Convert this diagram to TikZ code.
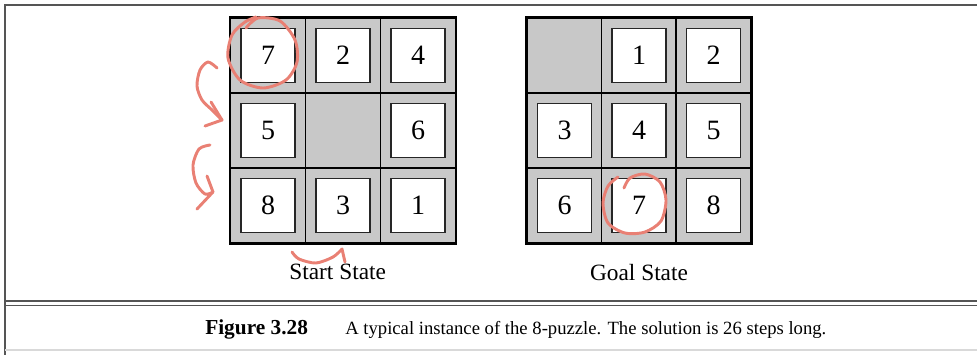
\documentclass[tikz,border=0pt]{standalone}
\usepackage{fontspec}
\setmainfont{Liberation Serif}
\usetikzlibrary{positioning}
\definecolor{cellgray}{RGB}{200,200,200}
\definecolor{penred}{RGB}{233,128,116}
\definecolor{framegray}{RGB}{85,85,85}

\begin{document}
\begin{tikzpicture}[
    x=0.75pt, y=-0.75pt,
    cell/.style={rectangle, draw=black, line width=1.1pt, fill=cellgray,
                 minimum size=56.25pt, inner sep=0pt},
    tile/.style={rectangle, draw=black!85, line width=0.8pt, fill=white,
                 minimum size=40.5pt, inner sep=0pt, font=\fontsize{21}{21}\selectfont},
    statelabel/.style={font=\fontsize{17.5}{20}\selectfont},
    scribble/.style={draw=penred, line width=2.2pt, line cap=round, line join=round}
  ]
    \useasboundingbox (0,0) rectangle (977,355);

    % page frame
    \draw[framegray, line width=1.5pt] (977,4.5) -- (5,4.5) -- (5,355);
    \draw[framegray, line width=1.2pt] (5,301) -- (977,301);
    \draw[framegray, line width=1.2pt] (5,305.5) -- (977,305.5);
    \draw[black!15, line width=0.8pt] (5,350) -- (977,350);

    % the two boards
    \foreach \r in {1,2,3} {
      \foreach \c in {1,2,3} {
        \node[cell] (s\r\c) at ({343+75*(\c-2)}, {130.5+75*(\r-2)}) {};
        \node[cell] (g\r\c) at ({639+74.5*(\c-2)}, {130.5+75*(\r-2)}) {};
      }
    }
    \draw[line width=1.5pt] (s11.north west) rectangle (s33.south east);
    \draw[line width=1.5pt] (g11.north west) rectangle (g33.south east);

    % tiles
    \foreach \r/\c/\n in {1/1/7, 1/2/2, 1/3/4, 2/1/5, 2/3/6, 3/1/8, 3/2/3, 3/3/1}
      \node[tile] (st\n) at (s\r\c) {\n};
    \foreach \r/\c/\n in {1/2/1, 1/3/2, 2/1/3, 2/2/4, 2/3/5, 3/1/6, 3/2/7, 3/3/8}
      \node[tile] (gt\n) at (g\r\c) {\n};

    \node[statelabel, below=12pt of s32, xshift=-4pt] (start) {Start State};
    \node[statelabel, below=12pt of g32] (goal) {Goal State};

    % caption
    \node[anchor=base west, font=\fontsize{16}{18}\selectfont\bfseries, inner sep=0pt]
      (fig) at (205,334) {Figure 3.28};
    \node[anchor=base west, font=\fontsize{14}{17}\selectfont, inner sep=0pt]
      (cap) at (345,334) {A typical instance of the 8-puzzle. The solution is 26 steps long.};

    % hand-drawn marks
    \draw[scribble] plot[smooth] coordinates {(246,28) (258,18) (280,21) (295,40)
      (297,62) (286,80) (263,88) (240,80) (228,58) (232,35) (245,22) (256,17)};
    \draw[scribble] plot[smooth] coordinates {(217,68) (208,62) (200,70) (197,86)
      (202,100) (212,110) (222,120)} -- (205,126);
    \draw[scribble] (211,102) -- (222,120);
    \draw[scribble] plot[smooth] coordinates {(210,145) (199,149) (193,165)
      (196,183) (205,194) (213,192)} -- (197,209);
    \draw[scribble] (207,176) -- (213,192);
    \draw[scribble] plot[smooth] coordinates {(292,252) (299,259) (316,263)
      (333,257) (342,249)} -- (345,262);
    \draw[scribble] plot[smooth] coordinates {(624,188) (630,178) (645,174)
      (660,182) (666,200) (661,221) (645,232) (625,233) (608,223) (603,203)
      (608,186) (618,177)};
  \end{tikzpicture}
\end{document}
